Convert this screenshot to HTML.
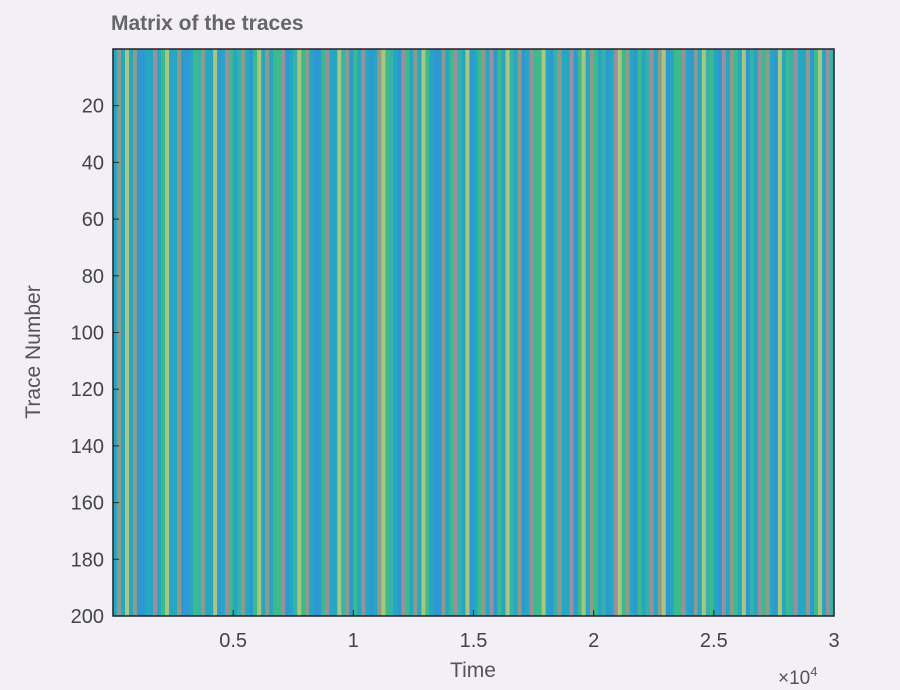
<!DOCTYPE html>
<html><head><meta charset="utf-8"><style>
html,body{margin:0;padding:0;background:#f2eff6;}
svg{display:block;font-family:"Liberation Sans",sans-serif;}
</style></head><body>
<svg width="900" height="690" viewBox="0 0 900 690">
<rect x="0" y="0" width="900" height="690" fill="#f2eff6"/>
<text x="111" y="30" font-size="21" font-weight="bold" fill="#666">Matrix of the traces</text>
<g id="stripes"></g>
<rect x="113" y="49" width="721" height="567" fill="none" stroke="#222" stroke-width="1.5"/>
<g id="xt"></g>
<g id="yt"></g>
<text x="473" y="677" font-size="21" fill="#555" text-anchor="middle">Time</text>
<text x="40" y="352" font-size="21" fill="#555" text-anchor="middle" transform="rotate(-90 40 352)">Trace Number</text>
<text x="778" y="684" font-size="19" fill="#555">×10<tspan font-size="13" dy="-8">4</tspan></text>
</svg>
<script>
const palette = ["#25a6c2","#2e98d2","#3cba8c","#8e9a8a","#a9c67e","#9a8f9c","#36b2aa"];
const stripeValues = [0,3,0,4,0,3,1,1,0,0,5,0,2,4,0,0,3,1,1,0,2,6,3,0,0,4,1,0,5,2,0,6,3,0,1,2,4,0,3,0,
2,2,5,1,0,6,4,2,3,0,1,1,2,5,0,0,4,6,3,1,2,0,5,0,1,0,3,4,2,6,0,1,5,2,0,3,0,4,2,0,
1,1,3,0,2,5,6,0,4,1,0,2,3,0,5,1,2,0,4,6,0,3,1,0,5,2,2,4,0,1,6,3,0,0,5,1,2,4,0,3,
2,0,6,1,0,5,4,2,3,0,1,2,0,6,5,0,3,4,1,0,2,2,5,0,1,3,0,4,6,2,0,1,5,0,3,2,0,4,1,6,
0,5,2,3,0,1,4,0,2,6,5,0,0,3,1,2,4,0,5,6];
const xTicks = [5000,10000,15000,20000,25000,30000];
const xTickLabels = ["0.5","1","1.5","2","2.5","3"];
const yTicks = [20,40,60,80,100,120,140,160,180,200];
const yTickLabels = ["20","40","60","80","100","120","140","160","180","200"];
const tMax = 30000, nTraces = 200;
const L=113,R=834,T=49,B=616;
const xs = t => L + (t/tMax)*(R-L);
const ys = v => T + (v/nTraces)*(B-T);
const NS="http://www.w3.org/2000/svg";
const sg=document.getElementById('stripes');
const w = tMax/stripeValues.length;
stripeValues.forEach((v,i)=>{
  const r=document.createElementNS(NS,'rect');
  r.setAttribute('x',xs(i*w)); r.setAttribute('y',T);
  r.setAttribute('width',xs((i+1)*w)-xs(i*w)+0.3); r.setAttribute('height',B-T);
  r.setAttribute('fill',palette[v]);
  
  
  sg.appendChild(r);
});
const xg=document.getElementById('xt');
xTicks.forEach((t,i)=>{
  const x=xs(t);
  const l=document.createElementNS(NS,'line');
  l.setAttribute('x1',x);l.setAttribute('x2',x);l.setAttribute('y1',B);l.setAttribute('y2',B-6);l.setAttribute('stroke','#222');
  
  
  xg.appendChild(l);
  const tx=document.createElementNS(NS,'text');
  tx.setAttribute('x',x);tx.setAttribute('y',B+31);tx.setAttribute('font-size','20');tx.setAttribute('fill','#444');tx.setAttribute('text-anchor','middle');
  tx.textContent=xTickLabels[i];
  
  
  xg.appendChild(tx);
});
const yg=document.getElementById('yt');
yTicks.forEach((v,i)=>{
  const y=ys(v);
  const l=document.createElementNS(NS,'line');
  l.setAttribute('x1',L);l.setAttribute('x2',L+6);l.setAttribute('y1',y);l.setAttribute('y2',y);l.setAttribute('stroke','#222');
  
  
  yg.appendChild(l);
  const tx=document.createElementNS(NS,'text');
  tx.setAttribute('x',L-9);tx.setAttribute('y',y+7);tx.setAttribute('font-size','20');tx.setAttribute('fill','#444');tx.setAttribute('text-anchor','end');
  tx.textContent=yTickLabels[i];
  
  
  yg.appendChild(tx);
});
</script>
</body></html>
